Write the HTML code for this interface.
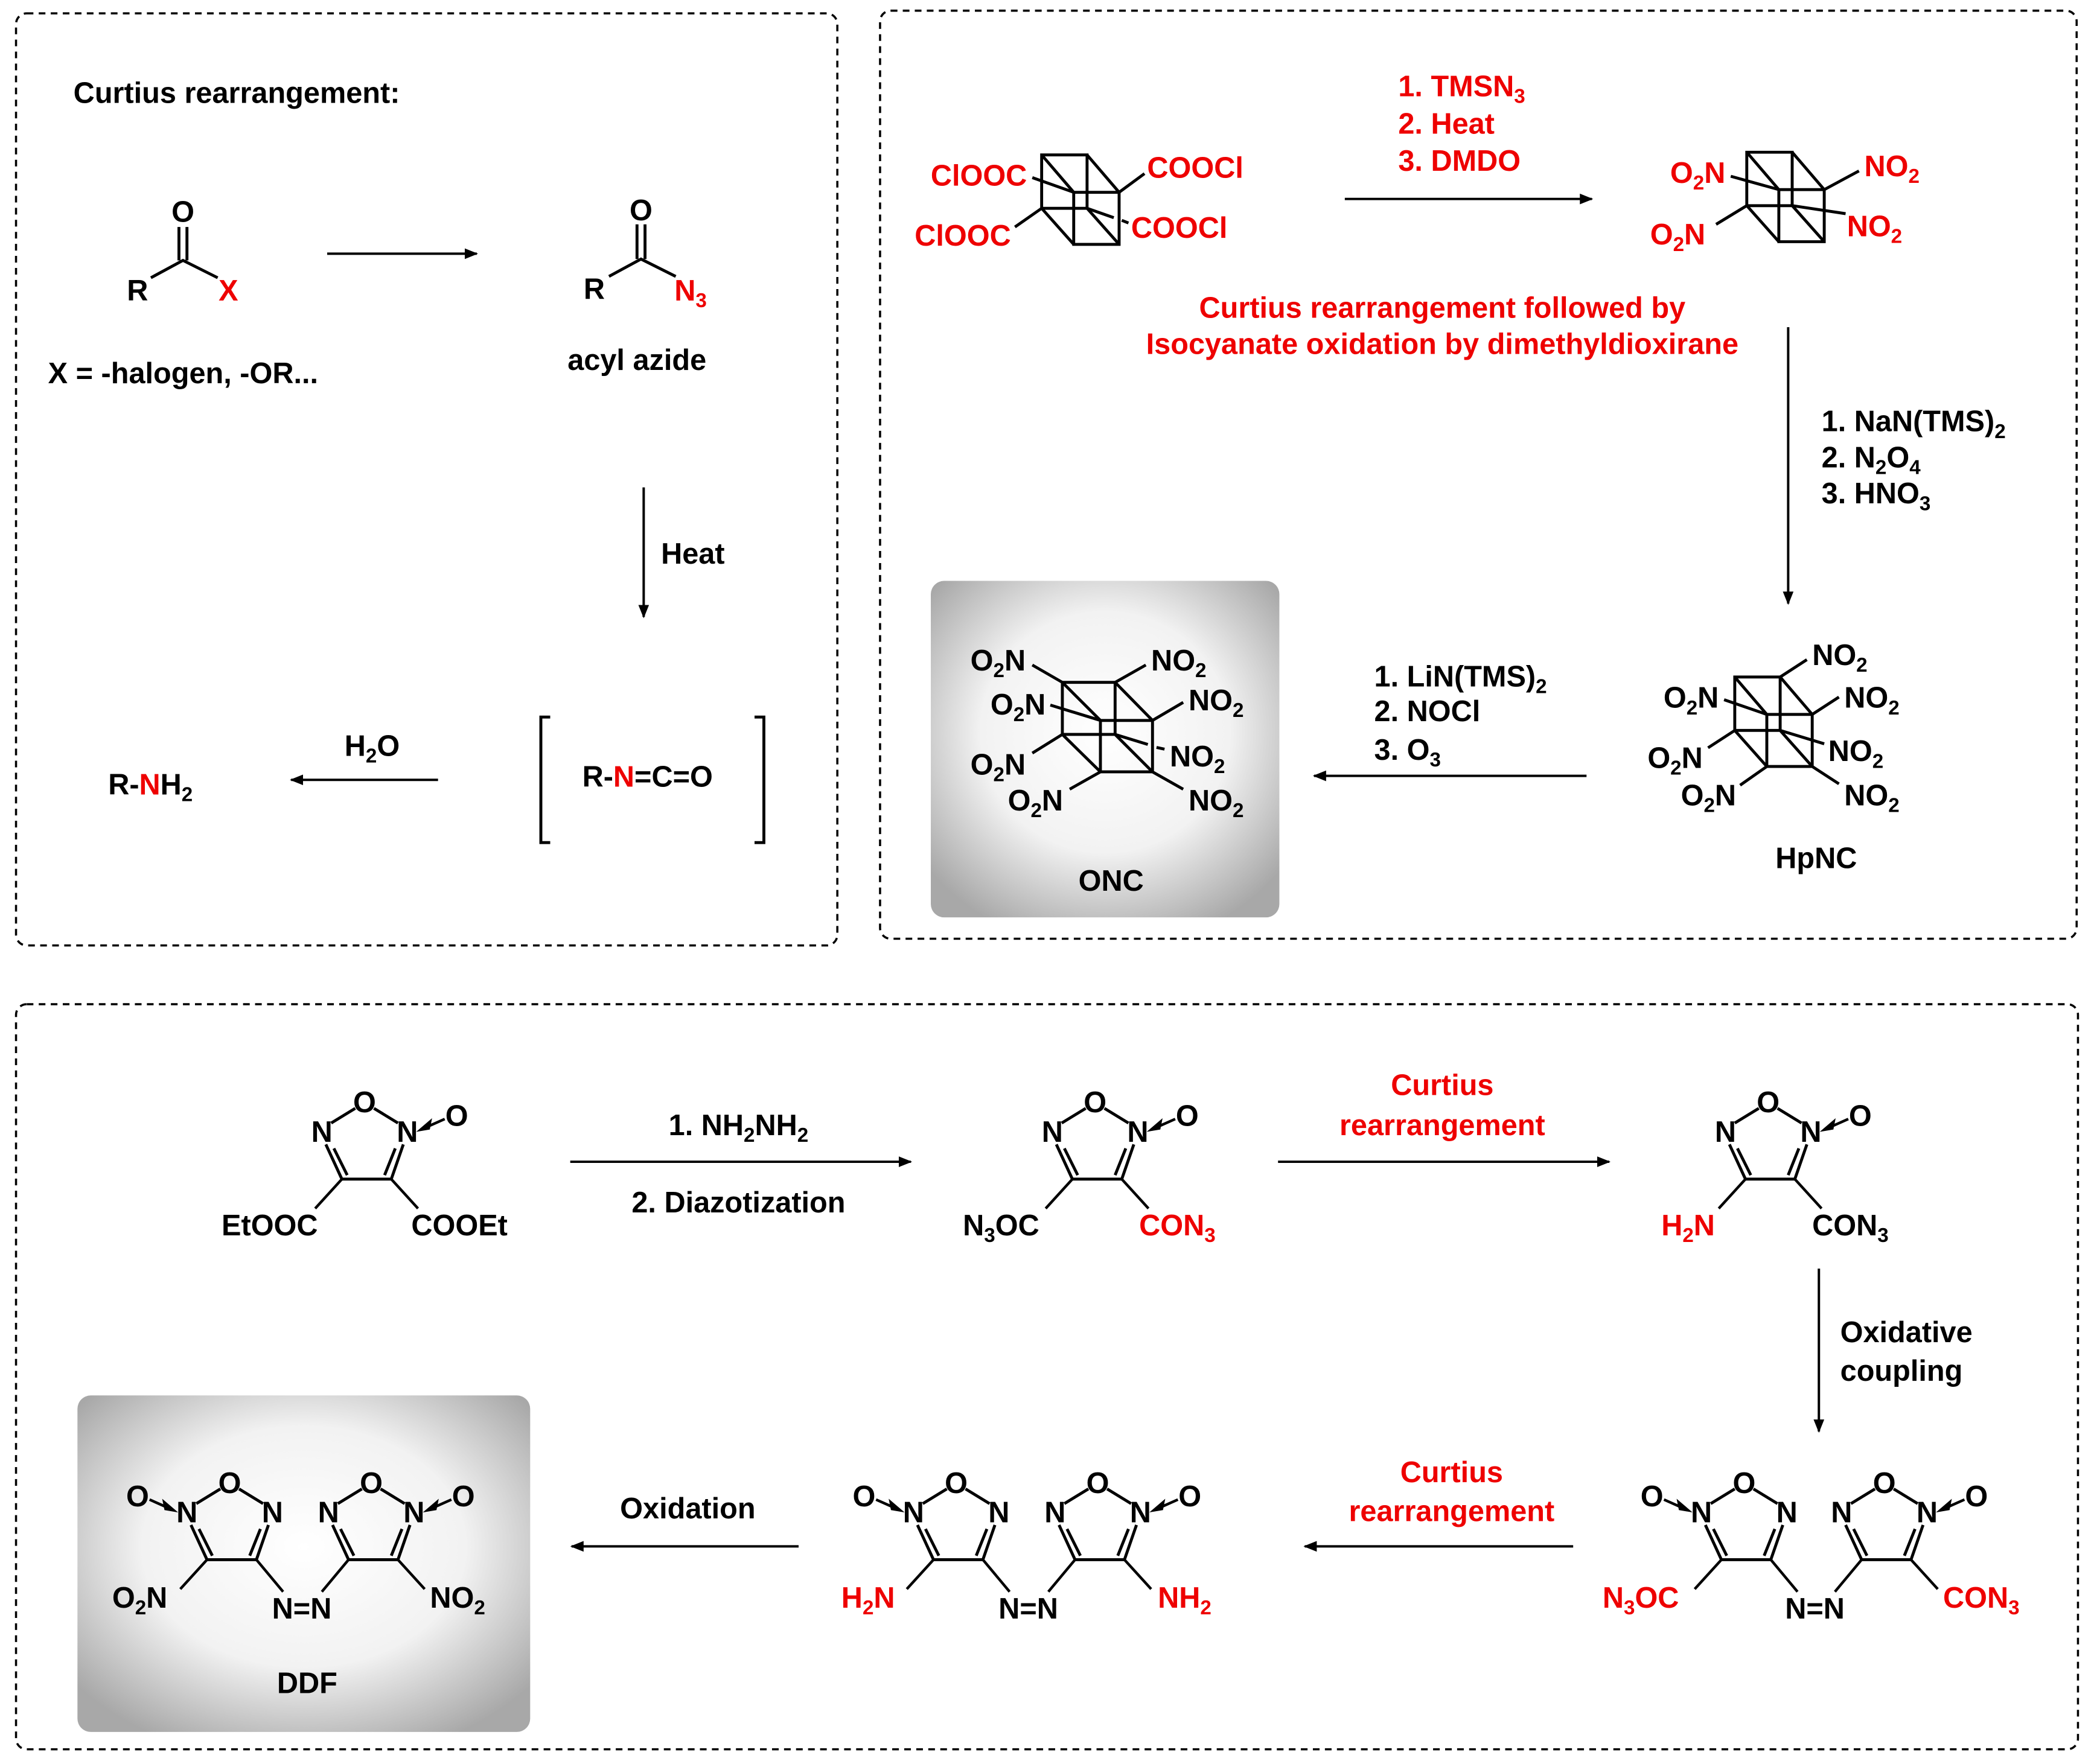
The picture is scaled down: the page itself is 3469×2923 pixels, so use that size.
<!DOCTYPE html>
<html><head><meta charset="utf-8"><style>html,body{margin:0;padding:0;background:#fff}svg{display:block}</style></head><body>
<svg width="3469" height="2923" viewBox="0 0 1568 1321" preserveAspectRatio="none" xmlns="http://www.w3.org/2000/svg" font-family="Liberation Sans, Arial, sans-serif" font-weight="bold" font-size="22">
<defs>
<marker id="ah" markerWidth="10" markerHeight="8" refX="9" refY="4" orient="auto" markerUnits="userSpaceOnUse"><path d="M0,0 L10,4 L0,8 Z" fill="#000"/></marker>
<radialGradient id="gg" cx="50%" cy="45%" r="65%"><stop offset="0" stop-color="#fff"/><stop offset="0.55" stop-color="#f2f2f2"/><stop offset="1" stop-color="#a8a8a8"/></radialGradient>
<g id="cube" stroke="#000" stroke-width="2.2" fill="none">
<path d="M0,0H34V40H0Z M24,28H58V67H24Z M0,0L24,28 M34,0L58,28 M0,40L24,67 M34,40L58,67"/>
</g>
<g id="ring" stroke="#000" stroke-width="2.2" fill="none">
<path d="M-7,5L-25,16 M7,5L25,16 M-29,32L-17,58 M29,32L20,58 M-17,58H20 M-23,35L-13,55 M23,35L15,55"/>
</g>
</defs>
<g fill="none" stroke="#000" stroke-width="1.6" stroke-dasharray="5,4">
<rect x="12" y="10" width="615" height="698" rx="8"/>
<rect x="659" y="8" width="896" height="695" rx="8"/>
<rect x="12" y="752" width="1544" height="558" rx="8"/>
</g>
<rect x="697" y="435" width="261" height="252" rx="10" fill="url(#gg)"/>
<rect x="58" y="1045" width="339" height="252" rx="10" fill="url(#gg)"/>

<!-- Left panel -->
<text x="55" y="77">Curtius rearrangement:</text>
<g stroke="#000" stroke-width="2.2" fill="none">
<path d="M113,208L137,195L163,208 M134,195V170 M140,195V170"/>
<path d="M456,207L480,194L506,207 M477,194V168 M483,194V168"/>
<path d="M412,537H405V631H412 M565,537H572V631H565"/>
</g>
<text x="137" y="166" text-anchor="middle">O</text>
<text x="103" y="225" text-anchor="middle">R</text>
<text x="171" y="225" text-anchor="middle" fill="#e00">X</text>
<text x="36" y="287">X = -halogen, -OR...</text>
<text x="480" y="165" text-anchor="middle">O</text>
<text x="445" y="224" text-anchor="middle">R</text>
<text x="505" y="225" fill="#e00">N<tspan font-size="15" dy="5">3</tspan></text>
<text x="425" y="277">acyl azide</text>
<text x="495" y="422">Heat</text>
<text x="436" y="589">R-<tspan fill="#e00">N</tspan>=C=O</text>
<text x="258" y="566">H<tspan font-size="15" dy="5">2</tspan><tspan dy="-5">O</tspan></text>
<text x="81" y="595">R-<tspan fill="#e00">N</tspan>H<tspan font-size="15" dy="5">2</tspan></text>
<g stroke="#000" stroke-width="1.8" marker-end="url(#ah)">
<line x1="245" y1="190" x2="357" y2="190"/>
<line x1="482" y1="365" x2="482" y2="462"/>
<line x1="328" y1="584" x2="218" y2="584"/>
<line x1="1007" y1="149" x2="1192" y2="149"/>
<line x1="1339" y1="245" x2="1339" y2="452"/>
<line x1="1188" y1="581" x2="984" y2="581"/>
<line x1="427" y1="870" x2="682" y2="870"/>
<line x1="957" y1="870" x2="1205" y2="870"/>
<line x1="1362" y1="950" x2="1362" y2="1072"/>
<line x1="1178" y1="1158" x2="977" y2="1158"/>
<line x1="598" y1="1158" x2="428" y2="1158"/>
</g>

<!-- Top right: starting cubane -->
<use href="#cube" x="780" y="116"/>
<g stroke="#000" stroke-width="2.2"><path d="M780,156L760,170 M804,144L773,133 M838,144L857,130 M840,165L845,167 M814,156L834,163"/></g>
<g fill="#e00">
<text x="769" y="139" text-anchor="end">ClOOC</text>
<text x="757" y="184" text-anchor="end">ClOOC</text>
<text x="859" y="133">COOCl</text>
<text x="847" y="178">COOCl</text>
<text x="1047" y="72">1. TMSN<tspan font-size="15" dy="5">3</tspan></text>
<text x="1047" y="100">2. Heat</text>
<text x="1047" y="128">3. DMDO</text>
<text x="1080" y="238" text-anchor="middle">Curtius rearrangement followed by</text>
<text x="1080" y="265" text-anchor="middle">Isocyanate oxidation by dimethyldioxirane</text>
</g>
<use href="#cube" x="1308" y="114"/>
<g stroke="#000" stroke-width="2.2"><path d="M1308,154L1285,168 M1332,142L1296,132 M1366,142L1392,128 M1342,154L1382,160"/></g>
<g fill="#e00">
<text x="1292" y="137" text-anchor="end">O<tspan font-size="15" dy="5">2</tspan><tspan dy="-5">N</tspan></text>
<text x="1277" y="183" text-anchor="end">O<tspan font-size="15" dy="5">2</tspan><tspan dy="-5">N</tspan></text>
<text x="1396" y="132">NO<tspan font-size="15" dy="5">2</tspan></text>
<text x="1383" y="177">NO<tspan font-size="15" dy="5">2</tspan></text>
</g>
<text x="1364" y="323">1. NaN(TMS)<tspan font-size="15" dy="5">2</tspan></text>
<text x="1364" y="350">2. N<tspan font-size="15" dy="5">2</tspan><tspan dy="-5">O</tspan><tspan font-size="15" dy="5">4</tspan></text>
<text x="1364" y="377">3. HNO<tspan font-size="15" dy="5">3</tspan></text>
<text x="1029" y="514">1. LiN(TMS)<tspan font-size="15" dy="5">2</tspan></text>
<text x="1029" y="540">2. NOCl</text>
<text x="1029" y="569">3. O<tspan font-size="15" dy="5">3</tspan></text>

<!-- HpNC -->
<use href="#cube" x="1299" y="507"/>
<g stroke="#000" stroke-width="2.2"><path d="M1333,507L1353,494 M1357,535L1377,522 M1291,524L1323,535 M1299,547L1279,560 M1323,574L1303,588 M1333,547L1366,557 M1357,574L1377,587"/></g>
<text x="1357" y="498">NO<tspan font-size="15" dy="5">2</tspan></text>
<text x="1381" y="530">NO<tspan font-size="15" dy="5">2</tspan></text>
<text x="1369" y="570">NO<tspan font-size="15" dy="5">2</tspan></text>
<text x="1381" y="603">NO<tspan font-size="15" dy="5">2</tspan></text>
<text x="1287" y="530" text-anchor="end">O<tspan font-size="15" dy="5">2</tspan><tspan dy="-5">N</tspan></text>
<text x="1275" y="575" text-anchor="end">O<tspan font-size="15" dy="5">2</tspan><tspan dy="-5">N</tspan></text>
<text x="1300" y="603" text-anchor="end">O<tspan font-size="15" dy="5">2</tspan><tspan dy="-5">N</tspan></text>
<text x="1360" y="650" text-anchor="middle">HpNC</text>

<!-- ONC -->
<g stroke="#000" stroke-width="2.2" fill="none">
<path d="M795.5,511H835V550H795.5Z M824,539.5H863V578H824Z M795.5,511L824,539.5 M835,511L863,539.5 M795.5,550L824,578 M835,550L863,578"/>
<path d="M773,498L795.5,511 M835,511L858,498 M863,539.5L886,526 M786.5,528L824,539.5 M795.5,550L773,564 M824,578L801,591 M863,578L886,591 M835,550L859.5,557.5 M866,559.7L872,561"/>
</g>
<text x="768" y="502" text-anchor="end">O<tspan font-size="15" dy="5">2</tspan><tspan dy="-5">N</tspan></text>
<text x="783" y="535" text-anchor="end">O<tspan font-size="15" dy="5">2</tspan><tspan dy="-5">N</tspan></text>
<text x="768" y="580" text-anchor="end">O<tspan font-size="15" dy="5">2</tspan><tspan dy="-5">N</tspan></text>
<text x="796" y="607" text-anchor="end">O<tspan font-size="15" dy="5">2</tspan><tspan dy="-5">N</tspan></text>
<text x="862" y="502">NO<tspan font-size="15" dy="5">2</tspan></text>
<text x="890" y="532">NO<tspan font-size="15" dy="5">2</tspan></text>
<text x="876" y="574">NO<tspan font-size="15" dy="5">2</tspan></text>
<text x="890" y="607">NO<tspan font-size="15" dy="5">2</tspan></text>
<text x="832" y="667" text-anchor="middle">ONC</text>

<!-- Bottom: ring 1 -->
<g transform="translate(273,825)">
<use href="#ring"/>
<g stroke="#000" stroke-width="2" fill="none"><path d="M-17,58L-37,80 M20,58L40,80 M42,21L60,13"/><path d="M42,21l7,-6 l-1,5z" fill="#000"/></g>
<text x="0" y="8" text-anchor="middle">O</text><text x="-32" y="30" text-anchor="middle">N</text><text x="32" y="30" text-anchor="middle">N</text><text x="69" y="18" text-anchor="middle">O</text>
<text x="-35" y="100" text-anchor="end">EtOOC</text><text x="35" y="100">COOEt</text>
</g>
<text x="553" y="850" text-anchor="middle">1. NH<tspan font-size="15" dy="5">2</tspan><tspan dy="-5">NH</tspan><tspan font-size="15" dy="5">2</tspan></text>
<text x="553" y="908" text-anchor="middle">2. Diazotization</text>
<g transform="translate(820,825)">
<use href="#ring"/>
<g stroke="#000" stroke-width="2" fill="none"><path d="M-17,58L-37,80 M20,58L40,80 M42,21L60,13"/><path d="M42,21l7,-6 l-1,5z" fill="#000"/></g>
<text x="0" y="8" text-anchor="middle">O</text><text x="-32" y="30" text-anchor="middle">N</text><text x="32" y="30" text-anchor="middle">N</text><text x="69" y="18" text-anchor="middle">O</text>
<text x="-99" y="100">N<tspan font-size="15" dy="5">3</tspan><tspan dy="-5">OC</tspan></text><text x="33" y="100" fill="#e00">CON<tspan font-size="15" dy="5">3</tspan></text>
</g>
<text x="1080" y="820" text-anchor="middle" fill="#e00">Curtius</text>
<text x="1080" y="850" text-anchor="middle" fill="#e00">rearrangement</text>
<g transform="translate(1324,825)">
<use href="#ring"/>
<g stroke="#000" stroke-width="2" fill="none"><path d="M-17,58L-37,80 M20,58L40,80 M42,21L60,13"/><path d="M42,21l7,-6 l-1,5z" fill="#000"/></g>
<text x="0" y="8" text-anchor="middle">O</text><text x="-32" y="30" text-anchor="middle">N</text><text x="32" y="30" text-anchor="middle">N</text><text x="69" y="18" text-anchor="middle">O</text>
<text x="-80" y="100" fill="#e00">H<tspan font-size="15" dy="5">2</tspan><tspan dy="-5">N</tspan></text><text x="33" y="100">CON<tspan font-size="15" dy="5">3</tspan></text>
</g>
<text x="1378" y="1005">Oxidative</text>
<text x="1378" y="1034">coupling</text>
<text x="1087" y="1110" text-anchor="middle" fill="#e00">Curtius</text>
<text x="1087" y="1139" text-anchor="middle" fill="#e00">rearrangement</text>
<text x="515" y="1137" text-anchor="middle">Oxidation</text>

<g transform="translate(1306,1110)">
<use href="#ring"/><use href="#ring" x="105"/>
<g stroke="#000" stroke-width="2" fill="none"><path d="M-17,58L-37,80 M20,58L40,82 M88,58L68,82 M125,58L145,80 M-42,21L-60,13 M147,21L165,13"/><path d="M-42,21l-7,-6 l1,5z M147,21l7,-6 l-1,5z" fill="#000"/></g>
<text x="0" y="8" text-anchor="middle">O</text><text x="-32" y="30" text-anchor="middle">N</text><text x="32" y="30" text-anchor="middle">N</text><text x="-69" y="18" text-anchor="middle">O</text>
<text x="105" y="8" text-anchor="middle">O</text><text x="73" y="30" text-anchor="middle">N</text><text x="137" y="30" text-anchor="middle">N</text><text x="174" y="18" text-anchor="middle">O</text>
<text x="53" y="102" text-anchor="middle">N=N</text>
<text x="-106" y="94" fill="#e00">N<tspan font-size="15" dy="5">3</tspan><tspan dy="-5">OC</tspan></text><text x="149" y="94" fill="#e00">CON<tspan font-size="15" dy="5">3</tspan></text>
</g>
<g transform="translate(716,1110)">
<use href="#ring"/><use href="#ring" x="106"/>
<g stroke="#000" stroke-width="2" fill="none"><path d="M-17,58L-37,80 M20,58L40,82 M89,58L69,82 M126,58L146,80 M-42,21L-60,13 M148,21L166,13"/><path d="M-42,21l-7,-6 l1,5z M148,21l7,-6 l-1,5z" fill="#000"/></g>
<text x="0" y="8" text-anchor="middle">O</text><text x="-32" y="30" text-anchor="middle">N</text><text x="32" y="30" text-anchor="middle">N</text><text x="-69" y="18" text-anchor="middle">O</text>
<text x="106" y="8" text-anchor="middle">O</text><text x="74" y="30" text-anchor="middle">N</text><text x="138" y="30" text-anchor="middle">N</text><text x="175" y="18" text-anchor="middle">O</text>
<text x="54" y="102" text-anchor="middle">N=N</text>
<text x="-86" y="94" fill="#e00">H<tspan font-size="15" dy="5">2</tspan><tspan dy="-5">N</tspan></text><text x="151" y="94" fill="#e00">NH<tspan font-size="15" dy="5">2</tspan></text>
</g>
<g transform="translate(172,1110)">
<use href="#ring"/><use href="#ring" x="106"/>
<g stroke="#000" stroke-width="2" fill="none"><path d="M-17,58L-37,80 M20,58L40,82 M89,58L69,82 M126,58L146,80 M-42,21L-60,13 M148,21L166,13"/><path d="M-42,21l-7,-6 l1,5z M148,21l7,-6 l-1,5z" fill="#000"/></g>
<text x="0" y="8" text-anchor="middle">O</text><text x="-32" y="30" text-anchor="middle">N</text><text x="32" y="30" text-anchor="middle">N</text><text x="-69" y="18" text-anchor="middle">O</text>
<text x="106" y="8" text-anchor="middle">O</text><text x="74" y="30" text-anchor="middle">N</text><text x="138" y="30" text-anchor="middle">N</text><text x="175" y="18" text-anchor="middle">O</text>
<text x="54" y="102" text-anchor="middle">N=N</text>
<text x="-88" y="94">O<tspan font-size="15" dy="5">2</tspan><tspan dy="-5">N</tspan></text><text x="150" y="94">NO<tspan font-size="15" dy="5">2</tspan></text>
<text x="58" y="158" text-anchor="middle">DDF</text>
</g>
</svg>
</body></html>
